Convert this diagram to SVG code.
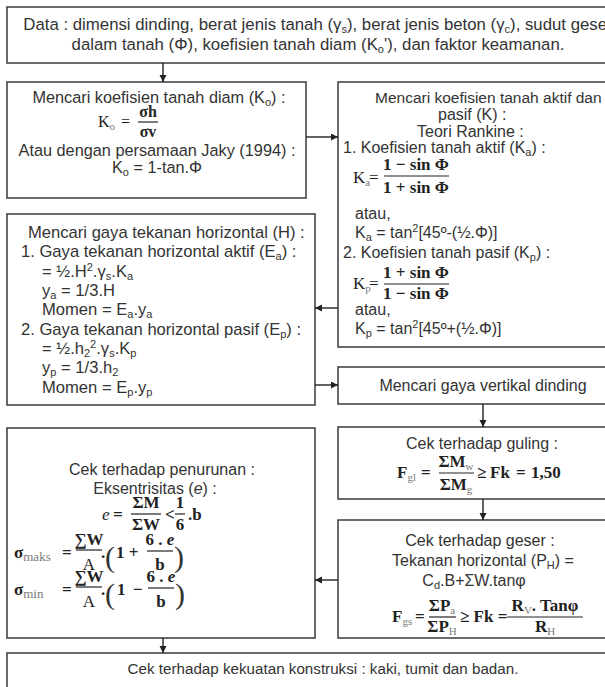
<svg xmlns="http://www.w3.org/2000/svg" width="605" height="687" viewBox="0 0 605 687">
  <defs>
    <style>
      .box{fill:#fff;stroke:#3a3a3a;stroke-width:1.5}
      .t{font-family:"Liberation Sans",Arial,sans-serif;font-size:16px;fill:#333}
      .m{font-family:"Liberation Serif","Times New Roman",serif;font-size:17px;font-weight:bold;fill:#222}
      .r{font-weight:normal}
      .s{font-size:11px}
      .g{fill:#7a7a7a;font-weight:normal}
      .c{text-anchor:middle}
      .bar{stroke:#222;stroke-width:1.2}
      .paren{font-family:"Liberation Serif",serif;font-size:30px;fill:#333}
      #horizontal .t{font-size:16.6px}
      #connectors line{stroke:#222;stroke-width:1.4}
    </style>
    <marker id="ah" markerWidth="8" markerHeight="8" refX="7" refY="3.5" orient="auto" markerUnits="userSpaceOnUse">
      <path d="M0,0 L7,3.5 L0,7 z" fill="#222"/>
    </marker>
  </defs>
  <rect width="605" height="687" fill="#fff"/>

  <!-- input data -->
  <g id="data">
    <rect class="box" x="7" y="7" width="640" height="56"/>
    <text class="t c" x="318" y="30" style="font-size:16.8px">Data : dimensi dinding, berat jenis tanah (γ<tspan class="s" dy="3">s</tspan><tspan dy="-3">), berat jenis beton (γ</tspan><tspan class="s" dy="3">c</tspan><tspan dy="-3">), sudut geser</tspan></text>
    <text class="t c" x="318" y="50" style="font-size:16.8px">dalam tanah (Φ), koefisien tanah diam (K<tspan class="s" dy="3">o</tspan><tspan dy="-3">'), dan faktor keamanan.</tspan></text>
  </g>

  <!-- at-rest coefficient -->
  <g id="ko">
    <rect class="box" x="7" y="82" width="299" height="116"/>
    <text class="t c" x="159" y="103" style="font-size:16.3px">Mencari koefisien tanah diam (K<tspan class="s" dy="3">o</tspan><tspan dy="-3">) :</tspan></text>
    <text class="m r" x="98" y="127" style="font-size:16px">K<tspan class="s g" dy="3">o</tspan></text>
    <text class="m r" x="121" y="127" style="font-size:16px">=</text>
    <text class="m c" x="148" y="117" style="font-size:16px">σh</text>
    <line class="bar" x1="138" y1="122" x2="158" y2="122"/>
    <text class="m c" x="148" y="137" style="font-size:16px">σv</text>
    <text class="t c" x="157" y="156" style="font-size:16.3px">Atau dengan persamaan Jaky (1994) :</text>
    <text class="t c" x="157" y="173" style="font-size:16.3px">K<tspan class="s" dy="3">o</tspan><tspan dy="-3"> = 1-tan.Φ</tspan></text>
  </g>

  <!-- active / passive coefficients -->
  <g id="rankine">
    <rect class="box" x="338" y="82" width="302" height="265"/>
    <text class="t" x="375" y="103" style="font-size:15.5px">Mencari koefisien tanah aktif dan</text>
    <text class="t" x="438" y="120">pasif (K) :</text>
    <text class="t" x="417" y="137">Teori Rankine :</text>
    <text class="t" x="343" y="153">1. Koefisien tanah aktif (K<tspan class="s" dy="3">a</tspan><tspan dy="-3">) :</tspan></text>
    <text class="m r" x="353" y="183">K<tspan class="s g" dy="3">a</tspan></text>
    <text class="m r" x="369" y="183">=</text>
    <text class="m c" x="416" y="170">1 − sin Φ</text>
    <line class="bar" x1="384" y1="176" x2="449" y2="176"/>
    <text class="m c" x="416" y="193">1 + sin Φ</text>
    <text class="t" x="355" y="219">atau,</text>
    <text class="t" x="355" y="238">K<tspan class="s" dy="3">a</tspan><tspan dy="-3"> = tan</tspan><tspan class="s" dy="-6">2</tspan><tspan dy="6">[45º-(½.Φ)]</tspan></text>
    <text class="t" x="343" y="258">2. Koefisien tanah pasif (K<tspan class="s" dy="3">p</tspan><tspan dy="-3">) :</tspan></text>
    <text class="m r" x="353" y="289">K<tspan class="s g" dy="3">p</tspan></text>
    <text class="m r" x="369" y="289">=</text>
    <text class="m c" x="416" y="278">1 + sin Φ</text>
    <line class="bar" x1="384" y1="284" x2="449" y2="284"/>
    <text class="m c" x="416" y="299">1 − sin Φ</text>
    <text class="t" x="355" y="315">atau,</text>
    <text class="t" x="355" y="334">K<tspan class="s" dy="3">p</tspan><tspan dy="-3"> = tan</tspan><tspan class="s" dy="-6">2</tspan><tspan dy="6">[45º+(½.Φ)]</tspan></text>
  </g>

  <!-- horizontal earth pressure -->
  <g id="horizontal">
    <rect class="box" x="7" y="214" width="308" height="191"/>
    <text class="t" x="28" y="238">Mencari gaya tekanan horizontal (H) :</text>
    <text class="t" x="21" y="257">1. Gaya tekanan horizontal aktif (E<tspan class="s" dy="3">a</tspan><tspan dy="-3">) :</tspan></text>
    <text class="t" x="42" y="277">= ½.H<tspan class="s" dy="-6">2</tspan><tspan dy="6">.γ</tspan><tspan class="s" dy="3">s</tspan><tspan dy="-3">.K</tspan><tspan class="s" dy="3">a</tspan></text>
    <text class="t" x="42" y="296">y<tspan class="s" dy="3">a</tspan><tspan dy="-3"> = 1/3.H</tspan></text>
    <text class="t" x="42" y="315">Momen = E<tspan class="s" dy="3">a</tspan><tspan dy="-3">.y</tspan><tspan class="s" dy="3">a</tspan></text>
    <text class="t" x="21" y="335">2. Gaya tekanan horizontal pasif (E<tspan class="s" dy="3">p</tspan><tspan dy="-3">) :</tspan></text>
    <text class="t" x="42" y="354">= ½.h<tspan class="s" dy="3">2</tspan><tspan class="s" dy="-9">2</tspan><tspan dy="6">.γ</tspan><tspan class="s" dy="3">s</tspan><tspan dy="-3">.K</tspan><tspan class="s" dy="3">p</tspan></text>
    <text class="t" x="42" y="373">y<tspan class="s" dy="3">p</tspan><tspan dy="-3"> = 1/3.h</tspan><tspan class="s" dy="3">2</tspan></text>
    <text class="t" x="42" y="393">Momen = E<tspan class="s" dy="3">p</tspan><tspan dy="-3">.y</tspan><tspan class="s" dy="3">p</tspan></text>
  </g>

  <!-- vertical forces -->
  <g id="vertical">
    <rect class="box" x="338" y="367" width="302" height="37"/>
    <text class="t c" x="483" y="391">Mencari gaya vertikal dinding</text>
  </g>

  <!-- overturning check -->
  <g id="guling">
    <rect class="box" x="338" y="427" width="302" height="72"/>
    <text class="t c" x="482" y="449">Cek terhadap guling :</text>
    <text class="m" x="397" y="478">F<tspan class="s g" dy="3">gl</tspan></text>
    <text class="m" x="421" y="478">=</text>
    <text class="m c" x="456" y="467">ΣM<tspan class="s g" dy="3">w</tspan></text>
    <line class="bar" x1="439" y1="473" x2="474" y2="473"/>
    <text class="m c" x="456" y="490">ΣM<tspan class="s g" dy="3">g</tspan></text>
    <text class="m" x="477" y="478">≥</text>
    <text class="m" x="490" y="478">Fk</text>
    <text class="m" x="516" y="478">=</text>
    <text class="m" x="531" y="478">1,50</text>
  </g>

  <!-- sliding check -->
  <g id="geser">
    <rect class="box" x="338" y="520" width="302" height="118"/>
    <text class="t c" x="480" y="546">Cek terhadap geser :</text>
    <text class="t c" x="483" y="566">Tekanan horizontal (P<tspan class="s" dy="3">H</tspan><tspan dy="-3">) =</tspan></text>
    <text class="t c" x="474" y="586">C<tspan class="s" dy="3">d</tspan><tspan dy="-3">.B+ΣW.tanφ</tspan></text>
    <text class="m" x="392" y="622">F<tspan class="s g" dy="3">gs</tspan></text>
    <text class="m" x="415" y="622">=</text>
    <text class="m c" x="442" y="611">ΣP<tspan class="s g" dy="3">a</tspan></text>
    <line class="bar" x1="429" y1="617" x2="456" y2="617"/>
    <text class="m c" x="442" y="632">ΣP<tspan class="s g" dy="3">H</tspan></text>
    <text class="m" x="460" y="622">≥ Fk =</text>
    <text class="m c" x="545" y="611">R<tspan class="s g" dy="3">V</tspan><tspan dy="-3">. Tanφ</tspan></text>
    <line class="bar" x1="507" y1="617" x2="583" y2="617"/>
    <text class="m c" x="545" y="632">R<tspan class="s g" dy="3">H</tspan></text>
  </g>

  <!-- settlement check -->
  <g id="penurunan">
    <rect class="box" x="7" y="428" width="308" height="210"/>
    <text class="t c" x="162" y="475">Cek terhadap penurunan :</text>
    <text class="t c" x="155" y="494">Eksentrisitas (<tspan font-style="italic">e</tspan>) :</text>
    <text class="m r" x="102" y="520" font-style="italic">e</text>
    <text class="m" x="113" y="520">=</text>
    <text class="m c" x="146" y="508">ΣM</text>
    <line class="bar" x1="131" y1="514" x2="161" y2="514"/>
    <text class="m c" x="146" y="530">ΣW</text>
    <text class="m" x="165" y="520">&lt;</text>
    <text class="m c" x="180" y="508">1</text>
    <line class="bar" x1="175" y1="514" x2="185" y2="514"/>
    <text class="m c" x="180" y="530">6</text>
    <text class="m" x="188" y="520">.b</text>

    <text class="m" x="14" y="558">σ<tspan class="g" style="font-size:13px" dy="3">maks</tspan></text>
    <text class="m" x="62" y="558">=</text>
    <text class="m c" x="89" y="545">∑W</text>
    <line class="bar" x1="76" y1="550" x2="102" y2="550"/>
    <text class="m r c" x="89" y="570">A</text>
    <text class="m" x="101" y="558">.</text>
    <text class="paren" x="105" y="567">(</text>
    <text class="m" x="116" y="558">1 +</text>
    <text class="m c" x="160" y="545">6 . <tspan font-style="italic">e</tspan></text>
    <line class="bar" x1="147" y1="551" x2="173" y2="551"/>
    <text class="m c" x="160" y="570">b</text>
    <text class="paren" x="174" y="567">)</text>

    <text class="m" x="14" y="595">σ<tspan class="g" style="font-size:13px" dy="3">min</tspan></text>
    <text class="m" x="62" y="595">=</text>
    <text class="m c" x="89" y="582">∑W</text>
    <line class="bar" x1="76" y1="587" x2="102" y2="587"/>
    <text class="m r c" x="89" y="607">A</text>
    <text class="m" x="101" y="595">.</text>
    <text class="paren" x="105" y="604">(</text>
    <text class="m" x="117" y="595">1 <tspan dx="3">−</tspan></text>
    <text class="m c" x="161" y="582">6 . <tspan font-style="italic">e</tspan></text>
    <line class="bar" x1="148" y1="588" x2="174" y2="588"/>
    <text class="m c" x="161" y="607">b</text>
    <text class="paren" x="175" y="604">)</text>
  </g>

  <!-- structural strength check -->
  <g id="kekuatan">
    <rect class="box" x="7" y="653" width="640" height="60"/>
    <text class="t c" x="323" y="674" style="font-size:15.2px">Cek terhadap kekuatan konstruksi : kaki, tumit dan badan.</text>
  </g>

  <g id="connectors">
    <line x1="163" y1="63" x2="163" y2="82" marker-end="url(#ah)"/>
    <line x1="306" y1="137" x2="338" y2="137" marker-end="url(#ah)"/>
    <line x1="338" y1="308" x2="315" y2="308" marker-end="url(#ah)"/>
    <line x1="315" y1="385" x2="338" y2="385" marker-end="url(#ah)"/>
    <line x1="483" y1="404" x2="483" y2="427" marker-end="url(#ah)"/>
    <line x1="483" y1="499" x2="483" y2="520" marker-end="url(#ah)"/>
    <line x1="338" y1="580" x2="315" y2="580" marker-end="url(#ah)"/>
    <line x1="163" y1="638" x2="163" y2="653" marker-end="url(#ah)"/>
  </g>
</svg>
